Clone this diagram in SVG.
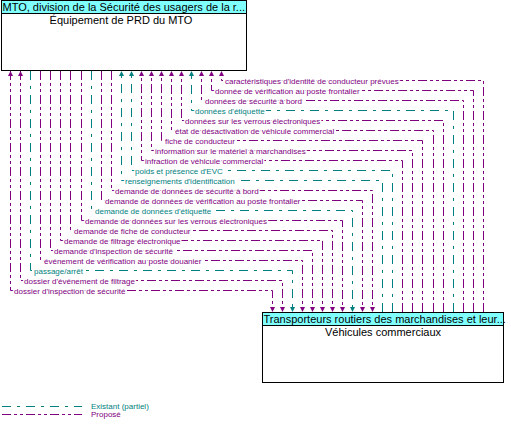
<svg xmlns="http://www.w3.org/2000/svg" width="511" height="430" viewBox="0 0 511 430">
<style>
text{font-family:"Liberation Sans",Arial,sans-serif}
.box{fill:#fff;stroke:#000;stroke-width:1}
.hdr{fill:#80ffff;stroke:#000;stroke-width:1}
.ht{font-size:11px;fill:#000}
.tt{font-size:11px;fill:#000;text-anchor:middle}
.p{fill:none;stroke:#800080;stroke-width:1;stroke-dasharray:9 3 3 3 3 3}
.t{fill:none;stroke:#008080;stroke-width:1;stroke-dasharray:9 6 3 6}
.lp{font-size:8px;fill:#800080;stroke:#fff;stroke-width:3px;paint-order:stroke;stroke-linejoin:round}
.lt{font-size:8px;fill:#008080;stroke:#fff;stroke-width:3px;paint-order:stroke;stroke-linejoin:round}
.pl{fill:none;stroke:#800080;stroke-width:1;stroke-dasharray:9 3 3 3 3 3}
.tl{fill:none;stroke:#008080;stroke-width:1;stroke-dasharray:9 6 3 6}
</style>
<defs>
<marker id="ap" viewBox="0 0 10 10" refX="10" refY="5" markerWidth="5" markerHeight="6" markerUnits="userSpaceOnUse" orient="auto-start-reverse"><path d="M0,0L10,5L0,10z" fill="#800080"/></marker>
<marker id="at" viewBox="0 0 10 10" refX="10" refY="5" markerWidth="5" markerHeight="6" markerUnits="userSpaceOnUse" orient="auto-start-reverse"><path d="M0,0L10,5L0,10z" fill="#008080"/></marker>
</defs>

<g id="node-mto">
<rect class="box" x="1.5" y="0.5" width="245" height="70"/>
<rect class="hdr" x="1.5" y="0.5" width="245" height="13"/>
<text class="ht" x="2.5" y="11">MTO, division de la Sécurité des usagers de la r...</text>
<text class="tt" x="121" y="23.5">Équipement de PRD du MTO</text>
</g>

<g id="node-vc">
<rect class="box" x="262.5" y="312.5" width="241" height="70"/>
<rect class="hdr" x="262.5" y="312.5" width="241" height="13"/>
<text class="ht" x="263.5" y="323">Transporteurs routiers des marchandises et leur...</text>
<text class="tt" x="383" y="335.5">Véhicules commerciaux</text>
</g>

<g id="connectors">
<path class="p" marker-end="url(#ap)" d="M483.5,312V80.5H221.5V71"/>
<path class="p" marker-end="url(#ap)" d="M473.5,312V90.5H211.5V71"/>
<path class="p" marker-end="url(#ap)" d="M463.5,312V100.5H201.5V71"/>
<path class="t" marker-end="url(#at)" d="M453.5,312V110.5H191.5V71"/>
<path class="p" marker-end="url(#ap)" d="M443.5,312V120.5H181.5V71"/>
<path class="p" marker-end="url(#ap)" d="M433.5,312V130.5H171.5V71"/>
<path class="p" marker-end="url(#ap)" d="M422.5,312V140.5H161.5V71"/>
<path class="p" marker-end="url(#ap)" d="M412.5,312V150.5H151.5V71"/>
<path class="p" marker-end="url(#ap)" d="M402.5,312V160.5H141.5V71"/>
<path class="t" marker-end="url(#at)" d="M392.5,312V170.5H131.5V71"/>
<path class="t" marker-end="url(#at)" d="M382.5,312V180.5H121.5V71"/>
<path class="p" marker-end="url(#ap)" d="M111.5,71V190.5H372.5V312"/>
<path class="p" marker-end="url(#ap)" d="M101.5,71V200.5H362.5V312"/>
<path class="t" marker-end="url(#at)" d="M91.5,71V210.5H352.5V312"/>
<path class="p" marker-end="url(#ap)" d="M81.5,71V220.5H342.5V312"/>
<path class="p" marker-end="url(#ap)" d="M70.5,71V230.5H332.5V312"/>
<path class="p" marker-end="url(#ap)" d="M60.5,71V240.5H322.5V312"/>
<path class="p" marker-end="url(#ap)" d="M50.5,71V250.5H312.5V312"/>
<path class="p" marker-end="url(#ap)" d="M40.5,71V260.5H302.5V312"/>
<path class="t" marker-end="url(#at)" d="M30.5,71V270.5H292.5V312"/>
<path class="p" marker-start="url(#ap)" marker-end="url(#ap)" d="M20.5,71V280.5H282.5V312"/>
<path class="p" marker-start="url(#ap)" marker-end="url(#ap)" d="M10.5,71V290.5H272.5V312"/>

<text class="lp" x="225" y="83.5">caractéristiques d'identité de conducteur prévues</text>
<text class="lp" x="215" y="93.5">donnée de vérification au poste frontalier</text>
<text class="lp" x="205" y="103.5">données de sécurité à bord</text>
<text class="lt" x="195" y="113.5">données d'étiquette</text>
<text class="lp" x="185" y="123.5">données sur les verrous électroniques</text>
<text class="lp" x="175" y="133.5">état de désactivation de véhicule commercial</text>
<text class="lp" x="165" y="143.5">fiche de conducteur</text>
<text class="lp" x="155" y="153.5">information sur le matériel à marchandises</text>
<text class="lp" x="145" y="163.5">infraction de véhicule commercial</text>
<text class="lt" x="135" y="173.5">poids et présence d'EVC</text>
<text class="lt" x="125" y="183.5">renseignements d'identification</text>
<text class="lp" x="115" y="193.5">demande de données de sécurité à bord</text>
<text class="lp" x="105" y="203.5">demande de données de vérification au poste frontalier</text>
<text class="lt" x="95" y="213.5">demande de données d'étiquette</text>
<text class="lp" x="85" y="223.5">demande de données sur les verrous électroniques</text>
<text class="lp" x="74" y="233.5">demande de fiche de conducteur</text>
<text class="lp" x="64" y="243.5">demande de filtrage électronique</text>
<text class="lp" x="54" y="253.5">demande d'inspection de sécurité</text>
<text class="lp" x="44" y="263.5">événement de vérification au poste douanier</text>
<text class="lt" x="34" y="273.5">passage/arrêt</text>
<text class="lp" x="24" y="283.5">dossier d'événement de filtrage</text>
<text class="lp" x="14" y="293.5">dossier d'inspection de sécurité</text>
</g>

<g id="legend">
<path class="tl" d="M2,406.5H82"/>
<path class="pl" d="M2,414.5H82"/>
<text x="91" y="409" style="font-size:8px;fill:#008080">Existant (partiel)</text>
<text x="91" y="417" style="font-size:8px;fill:#800080">Proposé</text>
</g>
</svg>
